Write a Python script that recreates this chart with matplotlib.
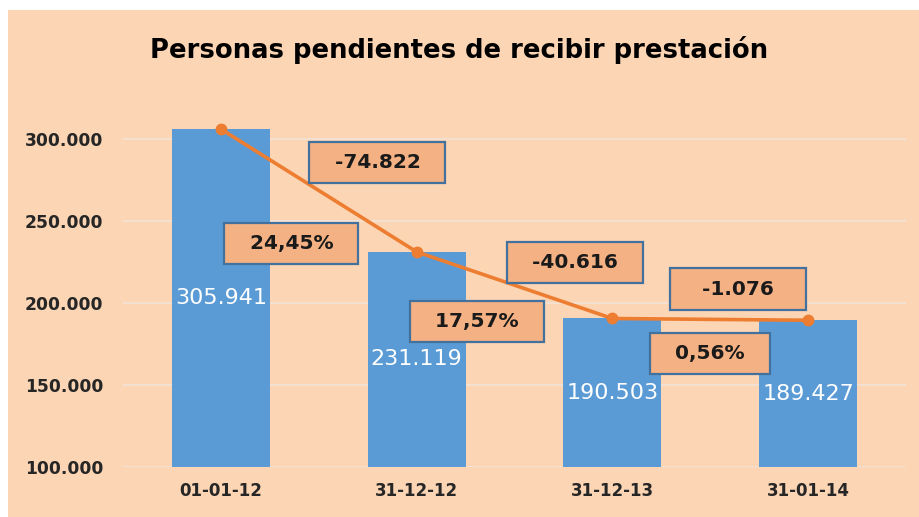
import matplotlib
matplotlib.use("Agg")
import matplotlib.pyplot as plt
from matplotlib.patches import Rectangle
from matplotlib.ticker import FuncFormatter

# datos
fechas = ['01-01-12', '31-12-12', '31-12-13', '31-01-14']
personas = [305941, 231119, 190503, 189427]
diferencias = ['-74.822', '-40.616', '-1.076']
porcentajes = ['24,45%', '17,57%', '0,56%']

# colores estilo Excel
FONDO = '#FCD5B4'
AZUL = '#5B9BD5'
NARANJA = '#ED7D31'
CAJA = '#F4B183'
BORDE = '#41719C'

plt.rcParams['font.family'] = ['DejaVu Sans']

fig = plt.figure(figsize=(9.19, 5.17), dpi=100)
fig.patch.set_facecolor('white')
# fondo del area del grafico (hay un margen blanco arriba y a la izquierda)
fig.add_artist(Rectangle((8 / 919, 0), 1, (517 - 10) / 517, transform=fig.transFigure,
                         facecolor=FONDO, edgecolor='none', zorder=-5))

ax = fig.add_axes([123 / 919, 50 / 517, 783 / 919, 361 / 517])
ax.set_facecolor('none')

x = list(range(len(fechas)))
ax.bar(x, [p - 100000 for p in personas], bottom=100000, width=0.5, color=AZUL, zorder=2)
ax.plot(x, personas, color=NARANJA, lw=2.6, marker='o', markersize=7.5, zorder=4)

ax.set_xlim(-0.5, 3.5)
ax.set_ylim(100000, 320000)
ax.set_yticks([100000, 150000, 200000, 250000, 300000])
ax.yaxis.set_major_formatter(FuncFormatter(lambda v, p: f'{int(v):,}'.replace(',', '.')))
ax.set_xticks(x)
ax.set_xticklabels(fechas, fontsize=12, fontweight='bold', color='#262626')
ax.tick_params(axis='x', length=0, pad=11)
ax.tick_params(axis='y', length=0, pad=14, labelsize=12.3, labelcolor='#262626')
for lab in ax.get_yticklabels():
    lab.set_fontweight('bold')
ax.grid(axis='y', color='#F3E3D6', lw=1.2, zorder=1)
for s in ax.spines.values():
    s.set_visible(False)

# etiquetas de valor dentro de las barras
for i, p in enumerate(personas):
    ax.text(i, (p + 100000) / 2, f'{p:,}'.replace(',', '.'), ha='center', va='center',
            color='white', fontsize=16, zorder=5)

# cajas con la diferencia y el porcentaje entre fechas
off_dif = [(0.30, 17000), (0.31, 14000), (0.14, 18500)]
off_pct = [(-0.14, -32500), (-0.19, -22000), (0.0, -21000)]
caja = dict(boxstyle='square,pad=0.55', facecolor=CAJA, edgecolor=BORDE, lw=1.6)
for i in range(len(diferencias)):
    xm = i + 0.5
    ym = (personas[i] + personas[i + 1]) / 2
    relleno = '   ' if len(diferencias[i]) < 7 else '  '
    ax.text(xm + off_dif[i][0], ym + off_dif[i][1], relleno + diferencias[i] + relleno,
            ha='center', va='center', fontsize=14.5, fontweight='bold', color='#1a1a1a',
            bbox=caja, zorder=6)
    ax.text(xm + off_pct[i][0], ym + off_pct[i][1], '  ' + porcentajes[i] + '  ',
            ha='center', va='center', fontsize=14.5, fontweight='bold', color='#1a1a1a',
            bbox=caja, zorder=6)

fig.text(0.5, 1 - 50 / 517, 'Personas pendientes de recibir prestación', ha='center', va='center',
         fontsize=18.6, fontweight='bold', color='black')

fig.savefig('out.png', dpi=100, facecolor=fig.get_facecolor())
